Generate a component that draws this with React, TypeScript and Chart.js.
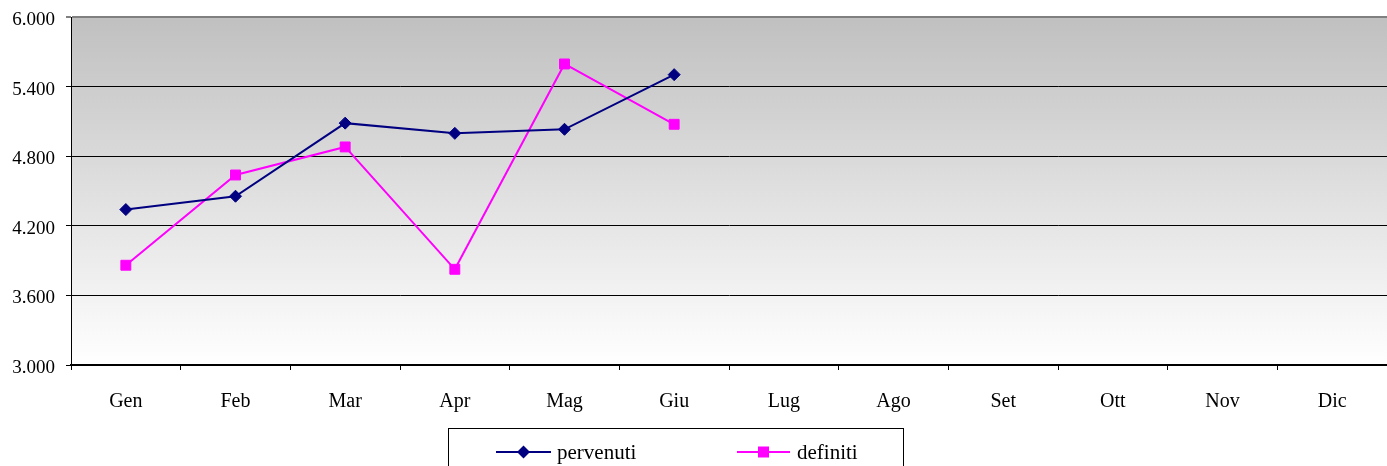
import React, { useEffect, useRef } from "react";
import { Chart, registerables } from "chart.js";

Chart.register(...registerables);

const months = ["Gen", "Feb", "Mar", "Apr", "Mag", "Giu", "Lug", "Ago", "Set", "Ott", "Nov", "Dic"];
const pervenuti = [4340, 4455, 5085, 4997, 5032, 5503, null, null, null, null, null, null];
const definiti = [3860, 4638, 4880, 3825, 5595, 5075, null, null, null, null, null, null];
const yMin = 3000;
const yMax = 6000;
const yStep = 600;

const FONT = "'Liberation Serif', 'DejaVu Serif', serif";

function fmt(v: number): string {
  const s = String(Math.round(v));
  return s.replace(/\B(?=(\d{3})+(?!\d))/g, ".");
}

const bgPlugin = {
  id: "bgGradient",
  beforeDraw(chart: any) {
    const { ctx, chartArea } = chart;
    const g = ctx.createLinearGradient(0, chartArea.top, 0, chartArea.bottom);
    g.addColorStop(0, "#c0c0c0");
    g.addColorStop(1, "#ffffff");
    ctx.save();
    ctx.fillStyle = g;
    ctx.fillRect(chartArea.left, chartArea.top, chartArea.right - chartArea.left, chartArea.bottom - chartArea.top);
    ctx.restore();
  },
};

const legendPlugin = {
  id: "customLegend",
  afterDraw(chart: any) {
    const ctx = chart.ctx;
    ctx.save();
    ctx.fillStyle = "#ffffff";
    ctx.fillRect(448, 428, 456, 50);
    ctx.strokeStyle = "#000";
    ctx.lineWidth = 1;
    ctx.strokeRect(448.5, 428.5, 455, 60);
    const cy = 452;
    const items = [
      { x0: 496, x1: 551, label: "pervenuti", color: "#000080", style: "diamond", tx: 557 },
      { x0: 737, x1: 790, label: "definiti", color: "#ff00ff", style: "square", tx: 797 },
    ];
    items.forEach((it) => {
      ctx.strokeStyle = it.color;
      ctx.lineWidth = 2;
      ctx.beginPath();
      ctx.moveTo(it.x0, cy);
      ctx.lineTo(it.x1, cy);
      ctx.stroke();
      ctx.fillStyle = it.color;
      const mx = (it.x0 + it.x1) / 2;
      ctx.beginPath();
      if (it.style === "diamond") {
        ctx.moveTo(mx, cy - 6.5);
        ctx.lineTo(mx + 6.5, cy);
        ctx.lineTo(mx, cy + 6.5);
        ctx.lineTo(mx - 6.5, cy);
        ctx.closePath();
      } else {
        ctx.rect(mx - 5.5, cy - 5.5, 11, 11);
      }
      ctx.fill();
      ctx.fillStyle = "#000";
      ctx.font = `21px ${FONT}`;
      ctx.textBaseline = "middle";
      ctx.textAlign = "left";
      ctx.fillText(it.label, it.tx, cy + 1);
    });
    ctx.restore();
  },
};

export default function App() {
  const ref = useRef<HTMLCanvasElement | null>(null);
  useEffect(() => {
    document.body.style.margin = "0";
    const canvas = ref.current!;
    const chart = new Chart(canvas, {
      type: "line",
      data: {
        labels: months,
        datasets: [
          {
            label: "pervenuti",
            data: pervenuti,
            borderColor: "#000080",
            backgroundColor: "#000080",
            borderWidth: 2,
            pointStyle: "rectRot",
            pointRadius: 6,
            pointBorderWidth: 1,
            pointBackgroundColor: "#000080",
            pointBorderColor: "#000080",
            tension: 0,
          },
          {
            label: "definiti",
            data: definiti,
            borderColor: "#ff00ff",
            backgroundColor: "#ff00ff",
            borderWidth: 2,
            pointStyle: "rect",
            pointRadius: 7,
            pointBorderWidth: 1,
            pointBackgroundColor: "#ff00ff",
            pointBorderColor: "#ff00ff",
            tension: 0,
          },
        ],
      },
      options: {
        responsive: false,
        animation: false,
        devicePixelRatio: 1,
        layout: { autoPadding: false, padding: { top: 17, right: 0, left: 0, bottom: 0 } },
        plugins: {
          legend: { display: false },
          tooltip: { enabled: false },
        },
        scales: {
          x: {
            offset: true,
            grid: {
              offset: true,
              drawOnChartArea: false,
              drawTicks: true,
              tickLength: 5,
              color: "#000",
              lineWidth: 1,
            },
            border: { display: true, color: "#000", width: 2 },
            ticks: {
              padding: 20,
              color: "#000",
              font: { family: FONT, size: 20 },
              maxRotation: 0,
              autoSkip: false,
            },
            afterFit(scale: any) {
              scale.height = 101;
              scale.paddingLeft = 0;
              scale.paddingRight = 0;
            },
          },
          y: {
            min: yMin,
            max: yMax,
            ticks: {
              stepSize: yStep,
              padding: 11,
              labelOffset: 3,
              color: "#000",
              font: { family: FONT, size: 19 },
              callback: (v: any) => fmt(Number(v)),
            },
            grid: {
              drawTicks: true,
              tickLength: 5,
              color: (c: any) => (c.tick && c.tick.value === yMax ? "#808080" : "#000"),
              lineWidth: (c: any) => (c.tick && c.tick.value === yMax ? 2 : 1),
            },
            border: { display: true, color: "#000", width: 1 },
            afterFit(scale: any) {
              scale.width = 71;
              scale.paddingTop = 0;
              scale.paddingBottom = 0;
            },
          },
        },
      },
      plugins: [bgPlugin, legendPlugin],
    });
    return () => chart.destroy();
  }, []);
  return (
    <div style={{ position: "absolute", left: 0, top: 0, width: 1387, height: 466 }}>
      <canvas ref={ref} width={1387} height={466} />
    </div>
  );
}
